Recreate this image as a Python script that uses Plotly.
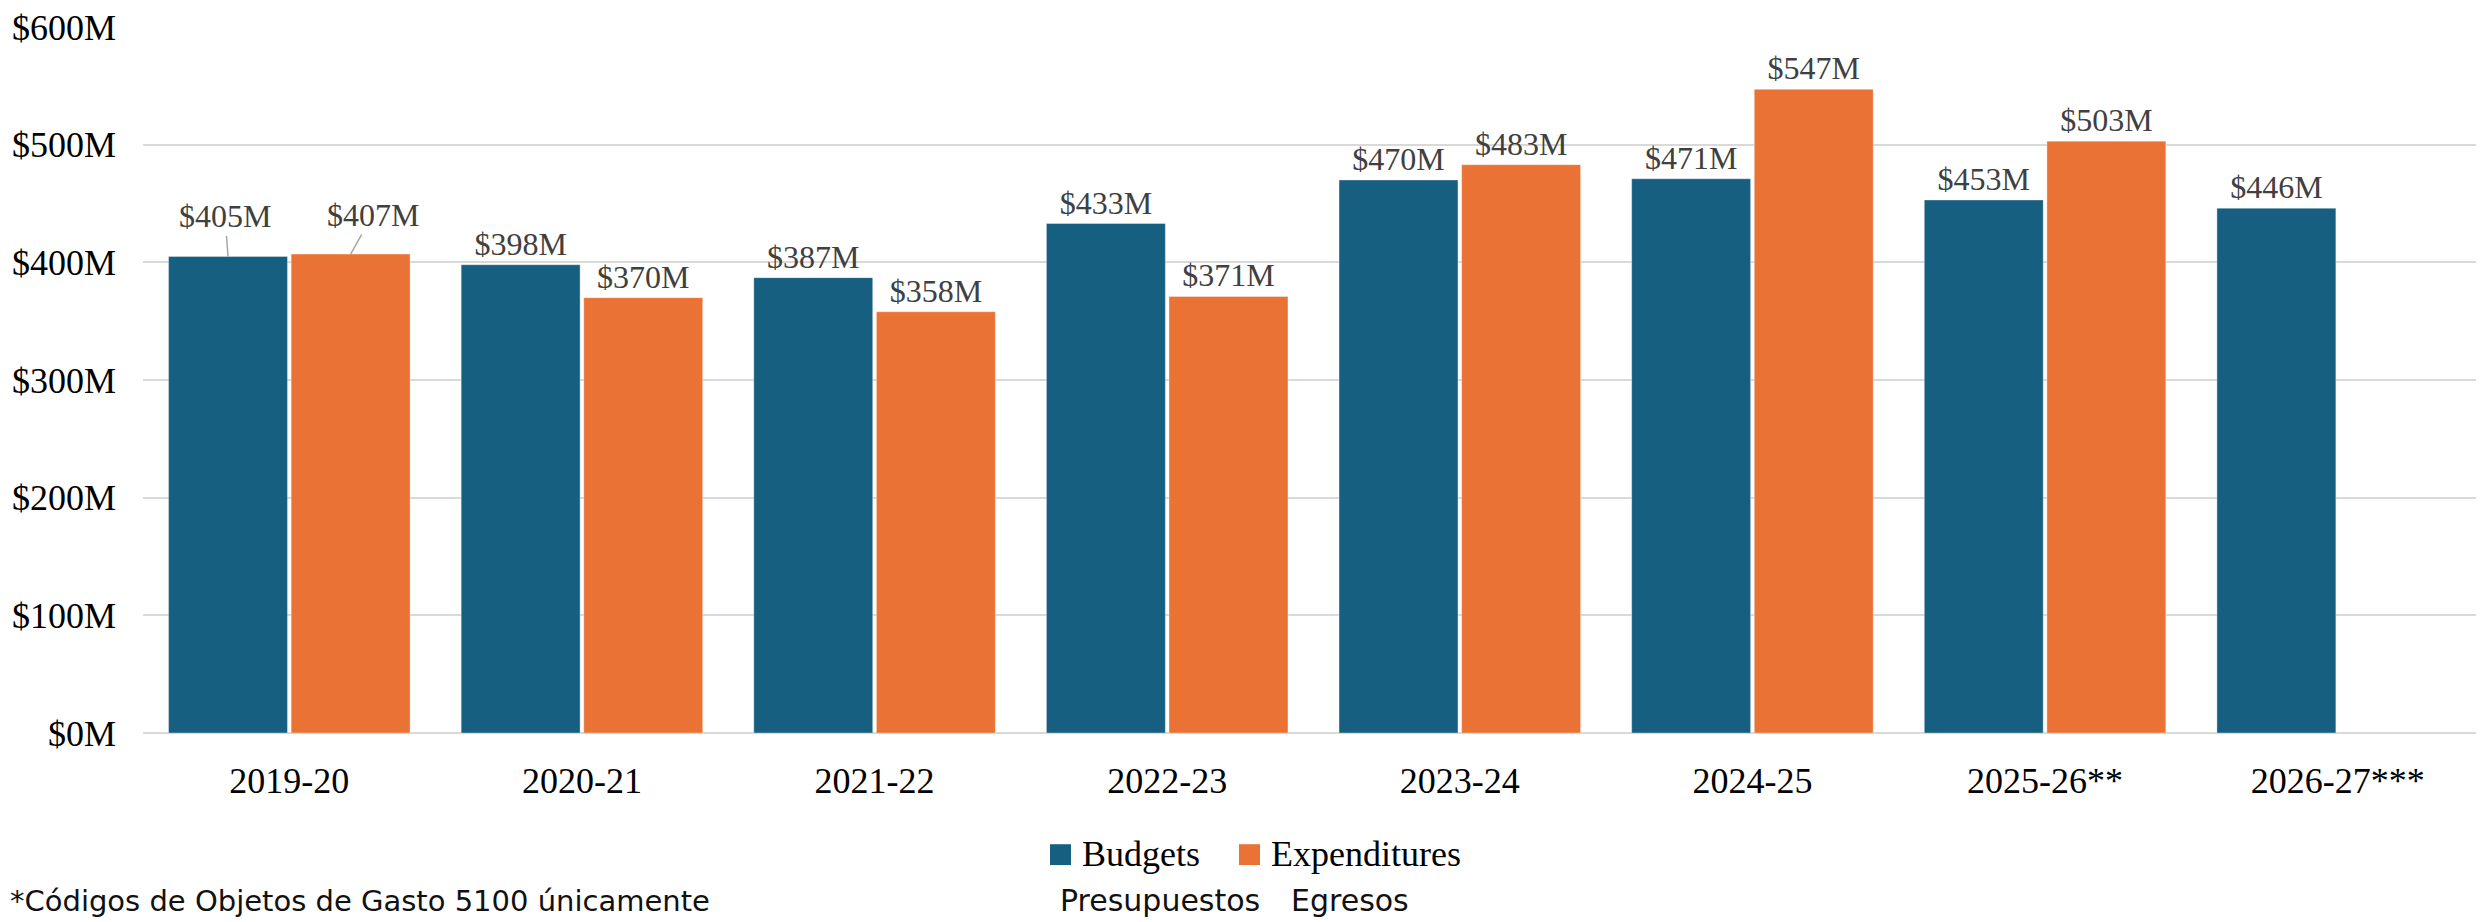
import plotly.graph_objects as go

# ---- data ----
categories = ["2019-20", "2020-21", "2021-22", "2022-23", "2023-24", "2024-25", "2025-26**", "2026-27***"]
budgets = [405, 398, 387, 433, 470, 471, 453, 446]            # $M
expenditures = [407, 370, 358, 371, 483, 547, 503, None]       # $M
y_ticks = [0, 100, 200, 300, 400, 500, 600]
y_tick_labels = ["$0M", "$100M", "$200M", "$300M", "$400M", "$500M", "$600M"]
series_names = ["Budgets", "Expenditures"]
series_names_es = ["Presupuestos", "Egresos"]
footnote = "*Códigos de Objetos de Gasto 5100 únicamente"

# ---- style ----
OFF = 8                      # browser body margin
W, H = 2484 - OFF, 922 - OFF
ML, MR, MT, MB = 143 - OFF, 0, 22 - OFF, 189
BLUE = "#175F81"
ORANGE = "#E97234"
SERIF = "Liberation Serif, Times New Roman, serif"
SANS = "DejaVu Sans, Noto Sans, sans-serif"
BARGAP = 0.162
BARGROUPGAP = 0.03

PW = W - ML - MR
PH = H - MT - MB


def px_x(px):
    """page pixel x -> paper x"""
    return (px - OFF - ML) / PW


def px_y(py):
    """page pixel y -> paper y"""
    return (H - MB - (py - OFF)) / PH


def fmt(v):
    return "" if v is None else f"${v}M"


# labels that are pulled up with a leader line (category index, series index) -> (dx, dy) px
leader = {(0, 0): (-3, -40), (0, 1): (22, -39)}

fig = go.Figure()
for s, (name, vals, col) in enumerate(zip(series_names, [budgets, expenditures], [BLUE, ORANGE])):
    texts = [("" if (i, s) in leader else fmt(v)) for i, v in enumerate(vals)]
    fig.add_trace(go.Bar(
        x=categories, y=vals, name=name,
        marker=dict(color=col, line=dict(color="rgba(255,255,255,0.35)", width=1)),
        text=texts, textposition="outside", cliponaxis=False, constraintext="none",
        textfont=dict(family=SERIF, size=32, color="#404040"),
        showlegend=False,
    ))

slot = (1 - BARGAP) / 2
offsets = [-slot / 2, slot / 2]
series_vals = [budgets, expenditures]
for (i, s), (dx, dy) in leader.items():
    v = series_vals[s][i]
    fig.add_annotation(
        x=i + offsets[s], y=v, xref="x", yref="y",
        text=fmt(v), showarrow=True, arrowhead=0, arrowwidth=1.5, arrowcolor="#A6A6A6",
        ax=dx, ay=dy, standoff=0,
        font=dict(family=SERIF, size=32, color="#404040"),
    )

# ---- manual legend ----
legend_items = [(1050, 1080, 1058), (1239, 1269, 1289)]  # square x, label x, spanish x (page px)
for (sq_x, lab_x, es_x), name, name_es, col in zip(legend_items, series_names, series_names_es, [BLUE, ORANGE]):
    fig.add_shape(type="rect", xref="paper", yref="paper",
                  x0=px_x(sq_x), x1=px_x(sq_x + 21), y0=px_y(866), y1=px_y(845),
                  fillcolor=col, line=dict(width=0))
    fig.add_annotation(xref="paper", yref="paper", x=px_x(lab_x), y=px_y(855),
                       xanchor="left", yanchor="middle", showarrow=False, text=name,
                       font=dict(family=SERIF, size=36, color="#000000"))
    fig.add_annotation(xref="paper", yref="paper", x=px_x(es_x), y=px_y(902),
                       xanchor="left", yanchor="middle", showarrow=False, text=name_es,
                       font=dict(family=SANS, size=30, color="#111111"))

fig.add_annotation(xref="paper", yref="paper", x=px_x(OFF), y=px_y(902),
                   xanchor="left", yanchor="middle", showarrow=False, text=footnote,
                   font=dict(family=SANS, size=29, color="#111111"))

fig.update_layout(
    width=W, height=H,
    margin=dict(l=ML, r=MR, t=MT, b=MB, pad=0),
    paper_bgcolor="white", plot_bgcolor="white",
    barmode="group", bargap=BARGAP, bargroupgap=BARGROUPGAP,
    showlegend=False,
    font=dict(family=SERIF, color="#000000"),
)
fig.update_xaxes(
    type="category", showgrid=False, showline=False, ticks="",
    tickfont=dict(family=SERIF, size=36, color="#000000"),
    ticklabelstandoff=23,
)
fig.update_yaxes(
    range=[0, 600.001], tickvals=y_ticks, ticktext=y_tick_labels,
    showgrid=True, gridcolor="#D9D9D9", gridwidth=2,
    zeroline=True, zerolinecolor="#D9D9D9", zerolinewidth=2,
    showline=False, ticks="", ticklabeloverflow="allow",
    tickfont=dict(family=SERIF, size=36, color="#000000"),
    ticklabelstandoff=26,
)

fig.write_html("out.html")
